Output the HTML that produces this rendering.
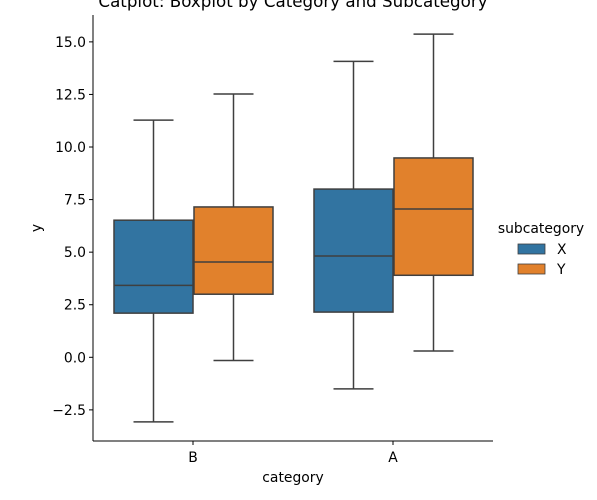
<!DOCTYPE html>
<html><head><meta charset="utf-8"><style>body{margin:0;background:#fff}svg{display:block;font-family:"DejaVu Sans","Liberation Sans",sans-serif}</style></head>
<body>
<svg id="chart" width="597" height="500">
<text x="293" y="7" font-size="16.7" text-anchor="middle">Catplot: Boxplot by Category and Subcategory</text>
<g id="plot"></g>
</svg>
<script>
const categories = ["B", "A"];
const subcategories = ["X", "Y"];
const colors = ["#3274a1", "#e1812c"];
const whiskerLow = [[-3.07, -0.15], [-1.5, 0.3]];
const q1 = [[2.1, 3.0], [2.15, 3.9]];
const median = [[3.42, 4.53], [4.82, 7.05]];
const q3 = [[6.52, 7.15], [8.0, 9.48]];
const whiskerHigh = [[11.28, 12.52], [14.07, 15.37]];
const yTicks = [-2.5, 0.0, 2.5, 5.0, 7.5, 10.0, 12.5, 15.0];

const ns = "http://www.w3.org/2000/svg";
const g = document.getElementById("plot");
const FS = 13.9;
function y(v){ return 357.3 - v * (368/17.5); }
function xc(i){ return 193 + i * 200; }
function el(tag, attrs, parent){ const e=document.createElementNS(ns,tag); for(const k in attrs) e.setAttribute(k,attrs[k]); (parent||g).appendChild(e); return e; }
const L="#3f3f3f";
const ax = el("line",{x1:93,y1:15,x2:93,y2:441,stroke:"#000","stroke-width":1});
 
const bx = el("line",{x1:93,y1:441,x2:493,y2:441,stroke:"#000","stroke-width":1});
 
yTicks.forEach(t=>{
  const yy=y(t);
  el("line",{x1:89,y1:yy,x2:93,y2:yy,stroke:"#000"});
  const tx=el("text",{x:86,y:yy+5,"font-size":FS,"text-anchor":"end"});
  tx.textContent=t.toFixed(1).replace("-","\u2212");
   
});
categories.forEach((c,i)=>{
  el("line",{x1:xc(i),y1:441,x2:xc(i),y2:445,stroke:"#000"});
  const tx=el("text",{x:xc(i),y:462,"font-size":FS,"text-anchor":"middle"});
  tx.textContent=c;
   
  subcategories.forEach((s,j)=>{
    const x0 = xc(i) - 80 + j*80 + 1, w=79, cx=x0+w/2;
    const grp=el("g",{});
     
    el("line",{x1:cx,y1:y(whiskerLow[i][j]),x2:cx,y2:y(q1[i][j]),stroke:L,"stroke-width":1.5},grp);
    el("line",{x1:cx,y1:y(q3[i][j]),x2:cx,y2:y(whiskerHigh[i][j]),stroke:L,"stroke-width":1.5},grp);
    el("line",{x1:cx-20,y1:y(whiskerLow[i][j]),x2:cx+20,y2:y(whiskerLow[i][j]),stroke:L,"stroke-width":1.5},grp);
    el("line",{x1:cx-20,y1:y(whiskerHigh[i][j]),x2:cx+20,y2:y(whiskerHigh[i][j]),stroke:L,"stroke-width":1.5},grp);
    el("rect",{x:x0,y:y(q3[i][j]),width:w,height:y(q1[i][j])-y(q3[i][j]),fill:colors[j],stroke:L,"stroke-width":1.5},grp);
    el("line",{x1:x0,y1:y(median[i][j]),x2:x0+w,y2:y(median[i][j]),stroke:L,"stroke-width":1.5},grp);
  });
});
let t=el("text",{x:293,y:482,"font-size":FS,"text-anchor":"middle"}); t.textContent="category";
 
t=el("text",{x:41,y:228,"font-size":FS,"text-anchor":"middle",transform:"rotate(-90 41 228)"}); t.textContent="y";
 
t=el("text",{x:541,y:233,"font-size":FS,"text-anchor":"middle"}); t.textContent="subcategory";
 
subcategories.forEach((s,j)=>{
  const lg=el("g",{});
   
  el("rect",{x:518,y:244+j*20,width:27,height:10,fill:colors[j],stroke:L,"stroke-width":0.8},lg);
  const tx=el("text",{x:557,y:254+j*20,"font-size":FS},lg); tx.textContent=s;
});
</script>
</body></html>
